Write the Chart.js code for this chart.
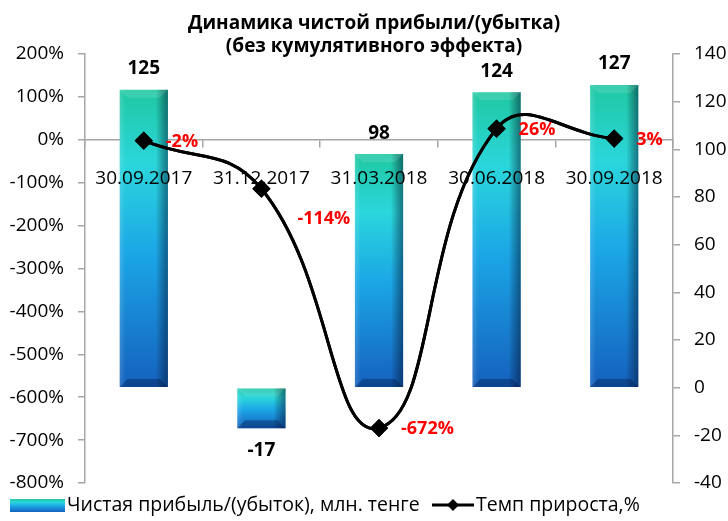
<!DOCTYPE html>
<html lang="ru">
<head>
<meta charset="UTF-8">
<title>Динамика чистой прибыли</title>
<script src="https://cdn.jsdelivr.net/npm/chart.js"></script>
<style>
  html, body { margin: 0; padding: 0; background: #fff; }
  #wrap { width: 728px; height: 521px; }
</style>
</head>
<body>
<div id="wrap"><canvas id="myChart"></canvas></div>
<script>
var titleLines = ['Динамика чистой прибыли/(убытка)', '(без кумулятивного эффекта)'];
var dates = ['30.09.2017', '31.12.2017', '31.03.2018', '30.06.2018', '30.09.2018'];
var profit = [125, -17, 98, 124, 127];      // млн. тенге, right axis
var growth = [-2, -114, -672, 26, 3];       // %, left axis
var profitLabel = 'Чистая прибыль/(убыток), млн. тенге';
var growthLabel = 'Темп прироста,%';

var FONT = "'Open Sans', sans-serif";
var GRAY = '#a6a6a6';

function barGradient(c, yTop, yBot) {
    var g = c.createLinearGradient(0, yTop, 0, yBot);
    g.addColorStop(0, '#1fc8a2');
    g.addColorStop(0.25, '#2bd6dc');
    g.addColorStop(0.55, '#1ba6e6');
    g.addColorStop(1, '#1560bd');
    return g;
}

function barFill(ctx) {
    var chart = ctx.chart;
    var s = chart.scales.y1;
    if (!s || !chart.chartArea || typeof ctx.raw !== 'number') return '#22b8d8';
    var yTop = s.getPixelForValue(Math.max(ctx.raw, 0));
    var yBot = s.getPixelForValue(Math.min(ctx.raw, 0));
    return barGradient(chart.ctx, yTop, yBot);
}

var extras = {
    id: 'extras',
    afterDatasetDraw: function (chart, args) {
        if (args.index !== 0) return;
        var c = chart.ctx;
        chart.getDatasetMeta(0).data.forEach(function (bar) {
            var l = bar.x - bar.width / 2, w = bar.width;
            var t = Math.min(bar.y, bar.base), h = Math.abs(bar.base - bar.y);
            c.save();
            var g = c.createLinearGradient(l, 0, l + w, 0);
            g.addColorStop(0, 'rgba(255,255,255,0.15)');
            g.addColorStop(0.12, 'rgba(255,255,255,0)');
            g.addColorStop(0.75, 'rgba(0,0,0,0)');
            g.addColorStop(1, 'rgba(0,20,50,0.5)');
            c.fillStyle = g;
            c.fillRect(l, t, w, h);
            // top bevel
            var b = Math.min(8, h / 3);
            c.beginPath();
            c.moveTo(l, t); c.lineTo(l + w, t); c.lineTo(l + w - b, t + b); c.lineTo(l + b, t + b); c.closePath();
            c.fillStyle = 'rgba(255,255,255,0.12)';
            c.fill();
            // bottom bevel
            c.beginPath();
            c.moveTo(l, t + h); c.lineTo(l + w, t + h); c.lineTo(l + w - b, t + h - b); c.lineTo(l + b, t + h - b); c.closePath();
            c.fillStyle = 'rgba(0,20,60,0.35)';
            c.fill();
            c.restore();
        });
    },
    afterDraw: function (chart) {
        var c = chart.ctx;
        // line goes over the category labels, like the original
        chart.getDatasetMeta(1).controller.draw();

        c.save();
        // title
        c.fillStyle = '#000';
        c.textAlign = 'center';
        c.textBaseline = 'middle';
        c.font = 'bold 19px ' + FONT;
        c.fillText(titleLines[0], 374, 24);
        c.fillText(titleLines[1], 374, 47);

        // bar value labels
        c.font = 'bold 19px ' + FONT;
        chart.getDatasetMeta(0).data.forEach(function (bar, i) {
            var v = profit[i];
            var y = v >= 0 ? bar.y - 21 : bar.y + 22;
            c.fillText(String(v), bar.x, y);
        });

        // growth labels (pushed below the date labels when they would collide)
        var zeroY = chart.scales.y.getPixelForValue(0);
        c.fillStyle = '#ff0000';
        c.textAlign = 'left';
        c.font = 'bold 18px ' + FONT;
        chart.getDatasetMeta(1).data.forEach(function (pt, i) {
            var x = pt.x + 22, y = pt.y + 1;
            if (pt.y > zeroY + 20 && pt.y < zeroY + 70) { x = pt.x + 36; y = pt.y + 30; }
            c.fillText(growth[i] + '%', x, y);
        });

        // legend
        var ly = 505;
        c.fillStyle = barGradient(c, ly - 6, ly + 7);
        c.fillRect(10, ly - 6, 55, 13);
        c.fillStyle = '#000';
        c.font = '19.5px ' + FONT;
        c.fillText(profitLabel, 67, ly);
        c.strokeStyle = '#000';
        c.lineWidth = 3;
        c.beginPath(); c.moveTo(432, ly); c.lineTo(474, ly); c.stroke();
        c.beginPath();
        c.moveTo(453, ly - 6); c.lineTo(459, ly); c.lineTo(453, ly + 6); c.lineTo(447, ly); c.closePath();
        c.fill();
        c.fillText(growthLabel, 476, ly);
        c.restore();
    }
};

var ctx = document.getElementById('myChart').getContext('2d');

var myChart = new Chart(ctx, {
    type: 'bar',
    data: {
        labels: dates,
        datasets: [{
            label: profitLabel,
            data: profit,
            yAxisID: 'y1',
            backgroundColor: barFill,
            borderWidth: 0,
            barPercentage: 0.41,
            categoryPercentage: 1,
            order: 2
        }, {
            label: growthLabel,
            type: 'line',
            data: growth,
            yAxisID: 'y',
            borderColor: '#000',
            backgroundColor: '#000',
            borderWidth: 3,
            tension: 0.45,
            pointStyle: 'rectRot',
            pointRadius: 7,
            pointHoverRadius: 7,
            order: 1
        }]
    },
    options: {
        responsive: true,
        maintainAspectRatio: false,
        animation: false,
        layout: { padding: { top: 54, bottom: 38, left: 0, right: 0 } },
        plugins: {
            legend: { display: false },
            title: { display: false },
            tooltip: { enabled: false }
        },
        scales: {
            x: {
                position: { y: 0 },
                offset: true,
                grid: { display: true, drawOnChartArea: false, drawTicks: true, tickLength: 7, offset: true, color: GRAY, lineWidth: 1.5 },
                border: { display: true, color: GRAY, width: 1.5 },
                ticks: { z: 1, color: '#000', font: { family: FONT, size: 19 }, padding: 20, maxRotation: 0, autoSkip: false }
            },
            y: {
                position: 'left',
                min: -800,
                max: 200,
                afterFit: function (s) { s.width = 85; },
                grid: { drawOnChartArea: false, tickLength: 7, color: GRAY, lineWidth: 1.5 },
                border: { display: true, color: GRAY, width: 1.5 },
                ticks: {
                    stepSize: 100,
                    padding: 14,
                    color: '#000',
                    font: { family: FONT, size: 19 },
                    callback: function (v) { return v + '%'; }
                }
            },
            y1: {
                position: 'right',
                min: -40,
                max: 140,
                afterFit: function (s) { s.width = 55; },
                grid: { drawOnChartArea: false, tickLength: 7, color: GRAY, lineWidth: 1.5 },
                border: { display: true, color: GRAY, width: 1.5 },
                ticks: {
                    stepSize: 20,
                    padding: 14,
                    color: '#000',
                    font: { family: FONT, size: 19 }
                }
            }
        }
    },
    plugins: [extras]
});
</script>
</body>
</html>
